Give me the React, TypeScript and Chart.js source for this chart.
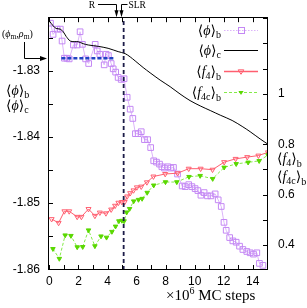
import React, { useEffect, useRef } from 'react';
import { Chart, registerables } from 'chart.js';
Chart.register(...registerables);

// ---------------- data ----------------
const phiBX = [0.07,0.25,0.53,0.75,0.87,1.03,1.20,1.36,1.65,1.91,2.11,2.27,2.49,2.70,3.15,3.29,3.47,3.77,3.90,4.06,4.25,4.39,4.56,4.73,4.94,5.14,5.35,5.56,5.74,5.92,6.11,6.32,6.54,6.76,6.97,7.18,7.37,7.58,7.74,7.92,8.15,8.36,8.54,8.82,9.14,9.35,9.59,9.81,10.03,10.22,10.43,10.65,10.88,11.12,11.41,11.62,11.83,12.02,12.17,12.41,12.63,12.86,13.09,13.32,13.59,13.82,14.05,14.28,14.46,14.70];
const phiBY = [-1.8228,-1.8245,-1.8237,-1.8237,-1.8255,-1.8281,-1.8281,-1.8282,-1.8261,-1.8261,-1.8241,-1.8260,-1.8282,-1.8289,-1.8260,-1.8270,-1.8275,-1.8291,-1.8275,-1.8277,-1.8289,-1.8297,-1.8302,-1.8310,-1.8313,-1.8312,-1.8340,-1.8358,-1.8372,-1.8395,-1.8395,-1.8392,-1.8404,-1.8404,-1.8416,-1.8436,-1.8438,-1.8441,-1.8445,-1.8447,-1.8445,-1.8447,-1.8446,-1.8456,-1.8474,-1.8475,-1.8472,-1.8475,-1.8478,-1.8481,-1.8488,-1.8484,-1.8489,-1.8489,-1.8486,-1.8495,-1.8505,-1.8529,-1.8541,-1.8552,-1.8557,-1.8559,-1.8565,-1.8570,-1.8573,-1.8575,-1.8577,-1.8575,-1.8591,-1.8594];

const phiCX = [0.01,0.25,0.46,0.74,0.95,1.15,1.43,1.70,1.98,2.32,2.67,3.35,4.04,4.73,5.21,5.56,5.90,6.45,6.93,7.62,8.31,8.99,9.68,10.38,11.07,11.76,12.58,13.27,13.82,14.51,15.05];
const phiCY = [-1.8225,-1.8232,-1.8236,-1.8237,-1.8241,-1.8248,-1.8255,-1.8256,-1.8256,-1.8259,-1.8261,-1.8263,-1.8266,-1.8271,-1.8274,-1.8279,-1.8285,-1.8295,-1.8303,-1.8314,-1.8324,-1.8335,-1.8345,-1.8353,-1.8360,-1.8367,-1.8375,-1.8384,-1.8392,-1.8403,-1.8411];

const f4X = [0.15,0.63,1.03,1.36,1.91,2.20,2.69,3.13,3.47,3.89,4.25,4.52,4.75,4.99,5.18,5.35,5.56,5.79,6.02,6.32,6.71,7.16,7.97,8.82,9.59,10.41,11.23,12.03,12.82,13.62,14.39,15.05];
const f4Y = [0.503,0.488,0.534,0.534,0.512,0.512,0.543,0.516,0.529,0.526,0.541,0.556,0.568,0.571,0.571,0.593,0.606,0.617,0.629,0.632,0.649,0.672,0.682,0.685,0.703,0.703,0.699,0.729,0.742,0.749,0.755,0.768];

const f4cX = [0.24,0.68,1.08,1.48,1.91,2.29,2.69,3.13,3.55,3.93,4.30,4.55,4.78,4.99,5.14,5.32,5.52,5.80,6.13,6.38,6.73,7.18,7.99,8.77,9.61,10.38,11.24,12.03,12.86,13.68,14.44,15.05];
const f4cY = [0.385,0.346,0.439,0.437,0.392,0.393,0.459,0.396,0.435,0.430,0.453,0.474,0.495,0.497,0.495,0.530,0.544,0.574,0.580,0.584,0.608,0.637,0.650,0.650,0.671,0.675,0.663,0.708,0.722,0.728,0.734,0.757];

const minMarkX = [0.82, 4.52];
const minMarkY = -1.8281;
const slrLineX = 5.11;
const rArrowX = 4.56;
const slrArrowX = 4.94;

const xTickLabels = [0, 2, 4, 6, 8, 10, 12, 14];
const xMinorTicks = [0,1,2,3,4,5,6,7,8,9,10,11,12,13,14,15];
const yTickLabels = [-1.86, -1.85, -1.84, -1.83];
const yMinorTicks = [-1.86,-1.855,-1.85,-1.845,-1.84,-1.835,-1.83,-1.825];
const y2TickLabels = [0.4, 0.6, 0.8, 1];
const y2MinorTicks = [0.4,0.5,0.6,0.7,0.8,0.9,1.0,1.1,1.2,1.3];

const X_MIN = -0.1, X_MAX = 15.05;
const Y_MIN = -1.8601, Y_MAX = -1.8219;
const Y2_MIN = 0.301, Y2_MAX = 1.304;

// ---------------- helpers ----------------
const SERIF = '"Liberation Serif","DejaVu Serif",serif';
const SANS = '"Liberation Sans",Arial,sans-serif';
type Part = { t: string; s?: number; dy?: number; it?: boolean };

function rich(ctx: CanvasRenderingContext2D, x: number, y: number, parts: Part[], base: number, align: 'left' | 'right' | 'center' = 'left') {
  let w = 0;
  const ms = parts.map(p => {
    ctx.font = `${p.it ? 'italic ' : ''}${p.s ?? base}px ${SERIF}`;
    const m = ctx.measureText(p.t).width;
    w += m;
    return m;
  });
  let cx = align === 'right' ? x - w : align === 'center' ? x - w / 2 : x;
  ctx.textAlign = 'left';
  ctx.textBaseline = 'alphabetic';
  parts.forEach((p, i) => {
    ctx.font = `${p.it ? 'italic ' : ''}${p.s ?? base}px ${SERIF}`;
    ctx.fillText(p.t, cx, y + (p.dy ?? 0));
    cx += ms[i];
  });
}

const phiLabel = (sub: string): Part[] => [{ t: '⟨' }, { t: 'ϕ', it: true }, { t: '⟩' }, { t: sub, s: 10, dy: 3 }];
const fLabel = (inner: string): Part[] => [{ t: '⟨' }, { t: 'f', it: true }, { t: inner, s: 10, dy: 3 }, { t: '⟩' }, { t: 'b', s: 10, dy: 4 }];

function triDown(ctx: CanvasRenderingContext2D, x: number, y: number, r: number, fill: boolean) {
  ctx.beginPath();
  ctx.moveTo(x - r, y - r * 0.6);
  ctx.lineTo(x + r, y - r * 0.6);
  ctx.lineTo(x, y + r);
  ctx.closePath();
  if (fill) ctx.fill(); else ctx.stroke();
}

const PURPLE = '#c488f4';
const PURPLE_LINE = '#dcb4fa';
const RED = '#ff5f70';
const GREEN = '#5ad800';
const GREEN_LINE = '#84ea48';

const overlay = {
  id: 'overlay',
  afterDraw(chart: any) {
    const { ctx, chartArea: a, scales } = chart;
    const xs = scales.x, ys = scales.y, y2s = scales.y2;
    ctx.save();
    ctx.strokeStyle = '#000';
    ctx.fillStyle = '#000';
    ctx.lineWidth = 1;
    ctx.setLineDash([]);
    // frame
    ctx.strokeRect(Math.round(a.left) + 0.5, Math.round(a.top) + 0.5, Math.round(a.right - a.left) - 1, Math.round(a.bottom - a.top) - 1);
    // ticks
    ctx.beginPath();
    xMinorTicks.forEach(v => {
      const px = Math.round(xs.getPixelForValue(v)) + 0.5;
      ctx.moveTo(px, a.bottom); ctx.lineTo(px, a.bottom - 5);
      ctx.moveTo(px, a.top); ctx.lineTo(px, a.top + 5);
    });
    yMinorTicks.forEach(v => {
      const py = Math.round(ys.getPixelForValue(v)) + 0.5;
      ctx.moveTo(a.left, py); ctx.lineTo(a.left + 5, py);
    });
    y2MinorTicks.forEach(v => {
      const py = Math.round(y2s.getPixelForValue(v)) + 0.5;
      ctx.moveTo(a.right, py); ctx.lineTo(a.right - 5, py);
    });
    ctx.stroke();

    // legend
    const lx0 = 224, lx1 = 258, lm = 241;
    const rows = [30, 50, 71, 92];
    ctx.fillStyle = '#000';
    rich(ctx, 221, rows[0] + 5, phiLabel('b'), 14, 'right');
    rich(ctx, 221, rows[1] + 5, phiLabel('c'), 14, 'right');
    rich(ctx, 221, rows[2] + 5, fLabel('4'), 14, 'right');
    rich(ctx, 221, rows[3] + 5, fLabel('4c'), 14, 'right');
    // row 1
    ctx.strokeStyle = PURPLE_LINE; ctx.lineWidth = 1.2; ctx.setLineDash([1.5, 1.5]);
    ctx.beginPath(); ctx.moveTo(lx0, rows[0] + 0.5); ctx.lineTo(lx1, rows[0] + 0.5); ctx.stroke();
    ctx.setLineDash([]); ctx.strokeStyle = PURPLE; ctx.lineWidth = 1;
    ctx.strokeRect(lm - 2.5, rows[0] - 2.5, 6, 6);
    // row 2
    ctx.strokeStyle = '#000'; ctx.lineWidth = 1;
    ctx.beginPath(); ctx.moveTo(lx0, rows[1] + 0.5); ctx.lineTo(lx1, rows[1] + 0.5); ctx.stroke();
    // row 3
    ctx.strokeStyle = RED; ctx.lineWidth = 1.5;
    ctx.beginPath(); ctx.moveTo(lx0, rows[2] + 0.5); ctx.lineTo(lx1, rows[2] + 0.5); ctx.stroke();
    ctx.lineWidth = 1; triDown(ctx, lm, rows[2] + 0.5, 2.8, false);
    // row 4
    ctx.strokeStyle = GREEN_LINE; ctx.lineWidth = 1; ctx.setLineDash([3, 2]);
    ctx.beginPath(); ctx.moveTo(lx0, rows[3] + 0.5); ctx.lineTo(lx1, rows[3] + 0.5); ctx.stroke();
    ctx.setLineDash([]); ctx.fillStyle = GREEN; triDown(ctx, lm, rows[3] + 0.5, 2.6, true);

    // axis side labels
    ctx.fillStyle = '#000';
    rich(ctx, 6, 95, phiLabel('b'), 14);
    rich(ctx, 6, 110, phiLabel('c'), 14);
    rich(ctx, 277, 163, fLabel('4'), 14);
    rich(ctx, 277, 181, fLabel('4c'), 14);

    // (phi_m, rho_m) annotation
    rich(ctx, 2, 37, [{ t: '(' }, { t: 'ϕ', it: true }, { t: 'm', s: 7.5, dy: 1.5 }, { t: ',' }, { t: 'ρ', it: true }, { t: 'm', s: 7.5, dy: 1.5 }, { t: ')' }], 10);
    const pmY = Math.round(ys.getPixelForValue(minMarkY)) + 0.5;
    ctx.strokeStyle = '#000'; ctx.lineWidth = 1;
    ctx.beginPath(); ctx.moveTo(24.5, 42); ctx.lineTo(24.5, pmY); ctx.lineTo(a.left - 5, pmY); ctx.stroke();
    ctx.beginPath(); ctx.moveTo(a.left - 1, pmY); ctx.lineTo(a.left - 8, pmY - 2.5); ctx.lineTo(a.left - 8, pmY + 2.5); ctx.closePath(); ctx.fill();

    // R and SLR arrows
    const rx = Math.round(xs.getPixelForValue(rArrowX)) + 0.5;
    const sx = Math.round(xs.getPixelForValue(slrArrowX)) + 0.5;
    const ty = 4.5;
    rich(ctx, 92, 8, [{ t: 'R' }], 9.5, 'center');
    rich(ctx, sx + 7, 8, [{ t: 'SLR' }], 9.5, 'left');
    ctx.beginPath();
    ctx.moveTo(98, ty); ctx.lineTo(rx, ty); ctx.lineTo(rx, a.top - 5);
    ctx.moveTo(sx + 6, ty); ctx.lineTo(sx, ty); ctx.lineTo(sx, a.top - 5);
    ctx.stroke();
    [rx, sx].forEach(px => {
      ctx.beginPath(); ctx.moveTo(px, a.top); ctx.lineTo(px - 2, a.top - 7); ctx.lineTo(px + 2, a.top - 7); ctx.closePath(); ctx.fill();
    });

    // x axis title
    rich(ctx, 166, 300, [{ t: '×10' }, { t: '6', s: 10, dy: -6 }, { t: ' MC steps' }], 15);
    ctx.restore();
  },
};

const pts = (xs: number[], ys: number[]) => xs.map((x, i) => ({ x, y: ys[i] }));

export default function App() {
  const ref = useRef<HTMLCanvasElement>(null);
  useEffect(() => {
    document.body.style.margin = '0';
    const canvas = ref.current!;
    const chart = new Chart(canvas, {
      type: 'line',
      data: {
        datasets: [
          {
            data: [{ x: slrLineX, y: Y_MIN }, { x: slrLineX, y: Y_MAX }],
            yAxisID: 'y', borderColor: '#1c1c48', borderWidth: 1.8, borderDash: [4, 3], pointRadius: 0, fill: false,
          },
          {
            data: minMarkX.map(x => ({ x, y: minMarkY })),
            yAxisID: 'y', borderColor: '#2343c4', borderWidth: 2.5, borderDash: [4, 2], pointRadius: 0, fill: false,
          },
          {
            data: pts(phiCX, phiCY), yAxisID: 'y', borderColor: '#000', borderWidth: 1, pointRadius: 0, tension: 0.3, fill: false,
          },
          {
            data: pts(f4cX, f4cY), yAxisID: 'y2', borderColor: GREEN_LINE, borderWidth: 1, borderDash: [3, 2],
            pointStyle: 'triangle', rotation: 180, pointRadius: 2.6, pointBackgroundColor: GREEN, pointBorderColor: GREEN, pointBorderWidth: 1, fill: false,
          },
          {
            data: pts(f4X, f4Y), yAxisID: 'y2', borderColor: RED, borderWidth: 1,
            pointStyle: 'triangle', rotation: 180, pointRadius: 2.9, pointBackgroundColor: 'rgba(0,0,0,0)', pointBorderColor: RED, pointBorderWidth: 1, fill: false,
          },
          {
            data: pts(phiBX, phiBY), yAxisID: 'y', borderColor: PURPLE_LINE, borderWidth: 1,
            pointStyle: 'rect', pointRadius: 4, pointBackgroundColor: 'rgba(0,0,0,0)', pointBorderColor: PURPLE, pointBorderWidth: 1, fill: false,
          },
        ],
      },
      options: {
        responsive: false,
        animation: false,
        events: [],
        layout: { padding: { top: 16, left: 0, right: 0, bottom: 0 } },
        plugins: { legend: { display: false }, tooltip: { enabled: false }, title: { display: false } },
        scales: {
          x: {
            type: 'linear', position: 'bottom', min: X_MIN, max: X_MAX,
            grid: { display: false, drawTicks: false }, border: { display: false },
            afterBuildTicks: (s: any) => { s.ticks = xTickLabels.map(v => ({ value: v })); },
            afterFit: (s: any) => { s.height = 38; },
            ticks: { padding: 4, color: '#000', font: { family: SANS, size: 12 }, maxRotation: 0, autoSkip: false, callback: (v: any) => String(v) },
          },
          y: {
            type: 'linear', position: 'left', min: Y_MIN, max: Y_MAX,
            grid: { display: false, drawTicks: false }, border: { display: false },
            afterBuildTicks: (s: any) => { s.ticks = yTickLabels.map(v => ({ value: v })); },
            afterFit: (s: any) => { s.width = 48; },
            ticks: { padding: 8, color: '#000', font: { family: SANS, size: 12 }, autoSkip: false, callback: (v: any) => Number(v).toFixed(2) },
          },
          y2: {
            type: 'linear', position: 'right', min: Y2_MIN, max: Y2_MAX,
            grid: { display: false, drawTicks: false }, border: { display: false },
            afterBuildTicks: (s: any) => { s.ticks = y2TickLabels.map(v => ({ value: v })); },
            afterFit: (s: any) => { s.width = 39; },
            ticks: { padding: 10, color: '#000', font: { family: SANS, size: 12 }, autoSkip: false, callback: (v: any) => (Number(v) === 1 ? '1' : Number(v).toFixed(1)) },
          },
        },
      } as any,
      plugins: [overlay],
    });
    return () => chart.destroy();
  }, []);
  return <canvas ref={ref} width={307} height={308} style={{ display: 'block', width: 307, height: 308 }} />;
}
